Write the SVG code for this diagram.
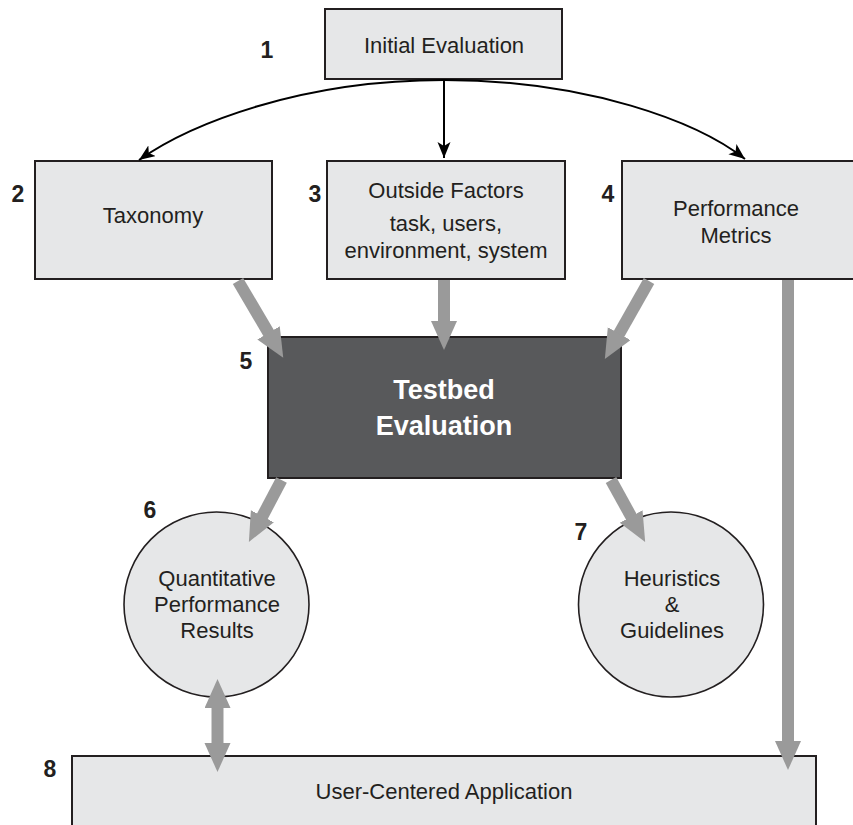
<svg xmlns="http://www.w3.org/2000/svg" width="853" height="825" viewBox="0 0 853 825">
<style>
.box{fill:#e6e7e8;stroke:#231f20;stroke-width:2}
.dark{fill:#58595b;stroke:#231f20;stroke-width:2}
.circ{fill:#e6e7e8;stroke:#231f20;stroke-width:1.6}
.t{font-family:"Liberation Sans",Arial,Helvetica,sans-serif;font-size:22px;fill:#231f20;text-anchor:middle}
.tw{font-family:"Liberation Sans",Arial,Helvetica,sans-serif;font-size:27px;font-weight:bold;fill:#ffffff;text-anchor:middle}
.n{font-family:"Liberation Sans",Arial,Helvetica,sans-serif;font-size:23px;font-weight:bold;fill:#231f20;text-anchor:middle}
.blk{fill:none;stroke:#000;stroke-width:2}
.gray{fill:none;stroke:#9a9a9a;stroke-width:12}
</style>
<defs>
<marker id="ah" markerUnits="userSpaceOnUse" markerWidth="18" markerHeight="14" refX="16" refY="6.5" orient="auto">
<path d="M0,0 L16,6.5 L0,13 L4,6.5 z" fill="#000"/>
</marker>
<marker id="gh" markerUnits="userSpaceOnUse" markerWidth="30" markerHeight="27" refX="9" refY="13" orient="auto-start-reverse">
<path d="M0,0 L29,13 L0,26 z" fill="#9a9a9a"/>
</marker>
</defs>
<g id="node1">
<rect class="box" x="325" y="9" width="237" height="70"/>
<text class="t" x="444" y="53">Initial Evaluation</text>
<text class="n" x="267" y="58">1</text>
</g>
<g id="node2">
<rect class="box" x="35" y="161" width="237" height="118"/>
<text class="t" x="153" y="223">Taxonomy</text>
<text class="n" x="18" y="202">2</text>
</g>
<g id="node3">
<rect class="box" x="327" y="161" width="238" height="118"/>
<text class="t" x="446" y="198">Outside Factors</text>
<text class="t" x="446" y="231">task, users,</text>
<text class="t" x="446" y="258">environment, system</text>
<text class="n" x="315" y="202">3</text>
</g>
<g id="node4">
<rect class="box" x="622" y="161" width="240" height="118"/>
<text class="t" x="736" y="216">Performance</text>
<text class="t" x="736" y="243">Metrics</text>
<text class="n" x="608" y="202">4</text>
</g>
<g id="node5">
<rect class="dark" x="268" y="337" width="353" height="141"/>
<text class="tw" x="444" y="399">Testbed</text>
<text class="tw" x="444" y="435">Evaluation</text>
<text class="n" x="246" y="369">5</text>
</g>
<g id="node6">
<circle class="circ" cx="216.5" cy="604.5" r="92.5"/>
<text class="t" x="217" y="586">Quantitative</text>
<text class="t" x="217" y="612">Performance</text>
<text class="t" x="217" y="638">Results</text>
<text class="n" x="150" y="518">6</text>
</g>
<g id="node7">
<circle class="circ" cx="671" cy="604.5" r="92.5"/>
<text class="t" x="672" y="586">Heuristics</text>
<text class="t" x="672" y="612">&amp;</text>
<text class="t" x="672" y="638">Guidelines</text>
<text class="n" x="581" y="540">7</text>
</g>
<g id="node8">
<rect class="box" x="72" y="756" width="744" height="80"/>
<text class="t" x="444" y="799">User-Centered Application</text>
<text class="n" x="50" y="777">8</text>
</g>
<g id="connectors">
<path class="blk" d="M444,80 C300,80 190,124 139,160" marker-end="url(#ah)"/>
<path class="blk" d="M444,80 C588,80 698,122 745,159" marker-end="url(#ah)"/>
<path class="blk" d="M444,79 L444,158" marker-end="url(#ah)"/>
<path class="gray" d="M238,281 L273.1,340.6" marker-end="url(#gh)"/>
<path class="gray" d="M444,280 L444,330" marker-end="url(#gh)"/>
<path class="gray" d="M649,281 L614.7,341.5" marker-end="url(#gh)"/>
<path class="gray" d="M281.5,480 L258.2,524.2" marker-end="url(#gh)"/>
<path class="gray" d="M611,480 L635.5,524.4" marker-end="url(#gh)"/>
<path class="gray" d="M788,280 L788,750" marker-end="url(#gh)"/>
<path class="gray" d="M217.5,699 L217.5,752" marker-start="url(#gh)" marker-end="url(#gh)"/>
</g>
</svg>
